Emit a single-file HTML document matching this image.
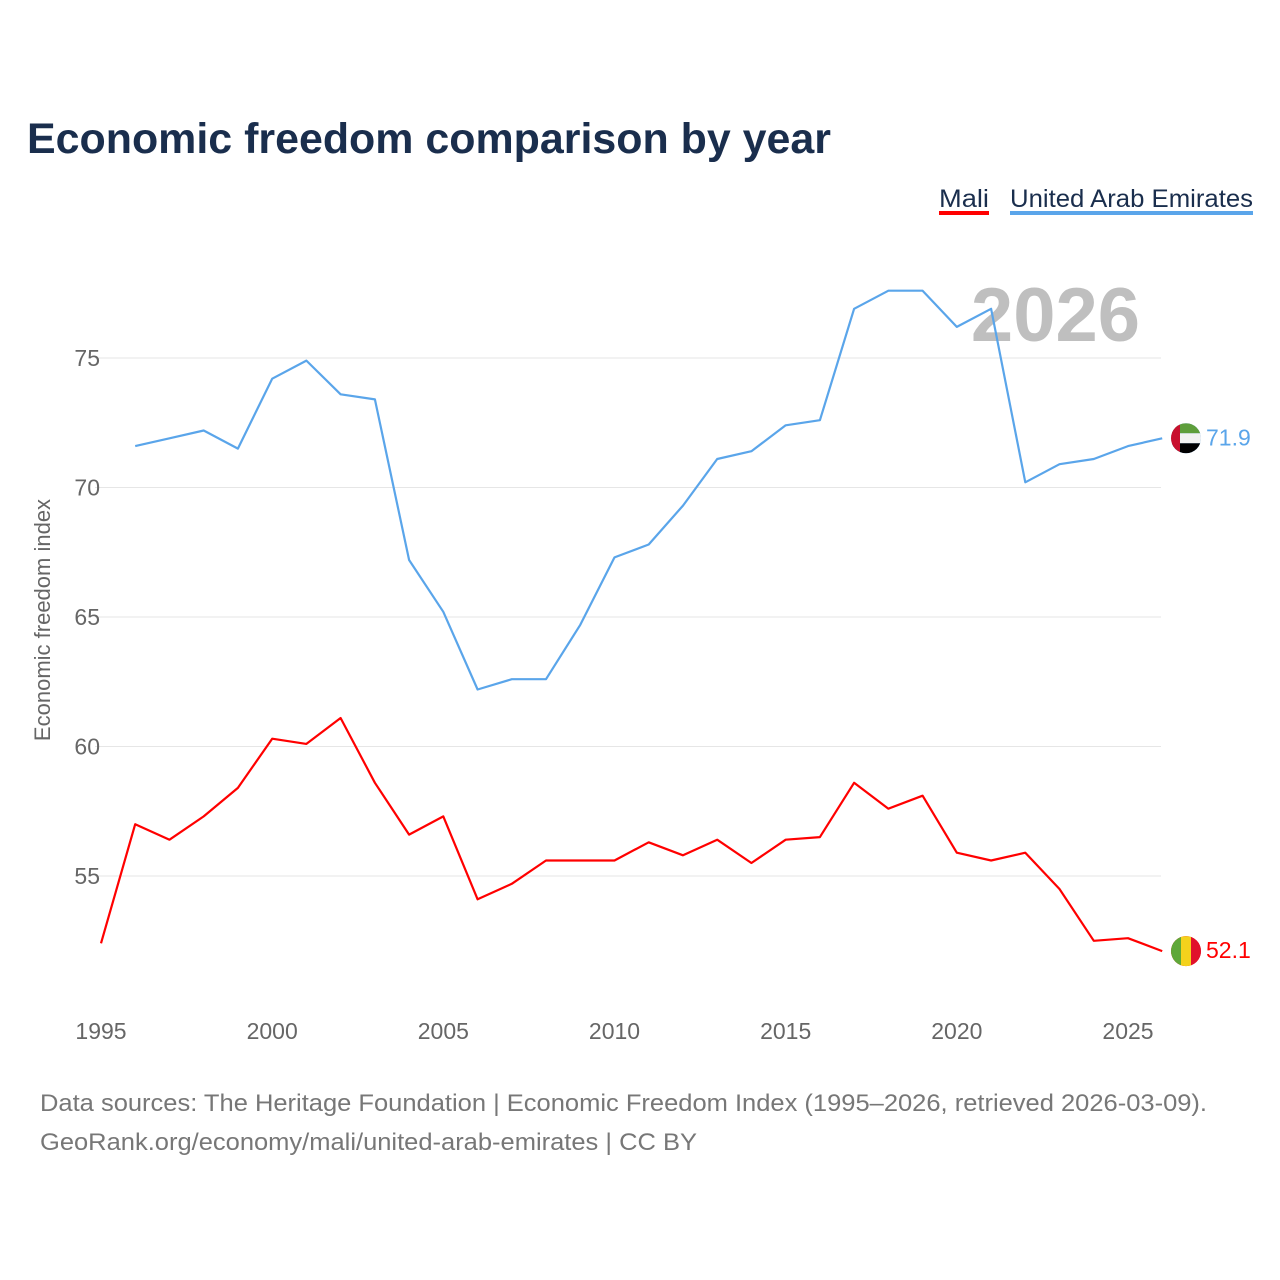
<!DOCTYPE html>
<html><head><meta charset="utf-8"><style>
body{margin:0;width:1280px;height:1280px;background:#fff;font-family:"Liberation Sans",sans-serif;overflow:hidden}
svg{display:block}
</style></head><body>
<svg id="chart" width="1280" height="1280">
<text x="27" y="153" font-size="43" font-weight="bold" fill="#1a2e4d" textLength="804" lengthAdjust="spacingAndGlyphs">Economic freedom comparison by year</text>
<g>
<text x="939" y="207" font-size="25" fill="#1a2e4d" textLength="50" lengthAdjust="spacingAndGlyphs">Mali</text>
<rect x="939" y="211" width="50" height="4" fill="#ff0000"/>
<text x="1010" y="207" font-size="25" fill="#1a2e4d" textLength="243" lengthAdjust="spacingAndGlyphs">United Arab Emirates</text>
<rect x="1010" y="211" width="243" height="4" fill="#5aa5ea"/>
</g>
<text x="1140" y="341" font-size="76" font-weight="bold" fill="#bfbfbf" text-anchor="end">2026</text>
<g id="grid"></g>
<text transform="translate(50,620) rotate(-90)" font-size="22" fill="#666" text-anchor="middle">Economic freedom index</text>
<g id="series"></g>
<text x="40" y="1111" font-size="24" fill="#777" textLength="1167" lengthAdjust="spacingAndGlyphs">Data sources: The Heritage Foundation | Economic Freedom Index (1995–2026, retrieved 2026-03-09).</text>
<text x="40" y="1150" font-size="24" fill="#777" textLength="657" lengthAdjust="spacingAndGlyphs">GeoRank.org/economy/mali/united-arab-emirates | CC BY</text>
</svg>
<script>
const years=[1995,1996,1997,1998,1999,2000,2001,2002,2003,2004,2005,2006,2007,2008,2009,2010,2011,2012,2013,2014,2015,2016,2017,2018,2019,2020,2021,2022,2023,2024,2025,2026];
const mali=[52.4,57.0,56.4,57.3,58.4,60.3,60.1,61.1,58.6,56.6,57.3,54.1,54.7,55.6,55.6,55.6,56.3,55.8,56.4,55.5,56.4,56.5,58.6,57.6,58.1,55.9,55.6,55.9,54.5,52.5,52.6,52.1];
const uae=[null,71.6,71.9,72.2,71.5,74.2,74.9,73.6,73.4,67.2,65.2,62.2,62.6,62.6,64.7,67.3,67.8,69.3,71.1,71.4,72.4,72.6,76.9,77.6,77.6,76.2,76.9,70.2,70.9,71.1,71.6,71.9];
const yTicks=[55,60,65,70,75];
const xTicks=[1995,2000,2005,2010,2015,2020,2025];
const NS="http://www.w3.org/2000/svg";
const xs=y=>101+(y-1995)*(1128-101)/30;
const ys=v=>876-(v-55)*(876-358)/20;
function mk(t,a,p){const e=document.createElementNS(NS,t);for(const k in a)e.setAttribute(k,a[k]);p.appendChild(e);return e;}
const g=document.getElementById('grid'),s=document.getElementById('series');
yTicks.forEach(v=>{
 const l=mk('line',{x1:95,x2:1161,y1:ys(v),y2:ys(v),stroke:'#e6e6e6','stroke-width':1},g);
 
 
 const t=mk('text',{x:100,y:ys(v)+8,'font-size':23,fill:'#666','text-anchor':'end'},g);t.textContent=v;
 
 
});
xTicks.forEach(v=>{
 const t=mk('text',{x:xs(v),y:1039,'font-size':23,fill:'#666','text-anchor':'middle'},g);t.textContent=v;
 
 
});
function line(data,color,name){
 let d='';data.forEach((v,i)=>{if(v==null)return;d+=(d?'L':'M')+xs(years[i]).toFixed(1)+','+ys(v).toFixed(1);});
 const p=mk('path',{d:d,fill:'none',stroke:color,'stroke-width':2.2,'stroke-linejoin':'round'},s);
 
 
 const last=data[data.length-1],cy=ys(last),cx=1186;
 const c=mk('circle',{cx:cx,cy:cy,r:15,fill:color},s);
 
 
 const t=mk('text',{x:1206,y:cy+7,'font-size':23,fill:color},s);t.textContent=last.toFixed(1);
 
 
 return {cx,cy};
}
const m=line(mali,'#ff0000','mali');
const u=line(uae,'#5aa5ea','uae');
const mf=mk('g',{},s);


const cm=mk('clipPath',{id:'cm'},mf);mk('circle',{cx:m.cx,cy:m.cy,r:15},cm);
mk('rect',{x:m.cx-15,y:m.cy-15,width:10,height:30,fill:'#5fa839','clip-path':'url(#cm)'},mf);
mk('rect',{x:m.cx-5,y:m.cy-15,width:10,height:30,fill:'#f4d21c','clip-path':'url(#cm)'},mf);
mk('rect',{x:m.cx+5,y:m.cy-15,width:10,height:30,fill:'#e0112b','clip-path':'url(#cm)'},mf);
const uf=mk('g',{},s);


const cp=mk('clipPath',{id:'cu'},uf);mk('circle',{cx:u.cx,cy:u.cy,r:15},cp);
mk('rect',{x:u.cx-15,y:u.cy-15,width:30,height:10,fill:'#5e9e3b','clip-path':'url(#cu)'},uf);
mk('rect',{x:u.cx-15,y:u.cy-5,width:30,height:10,fill:'#f2f2f2','clip-path':'url(#cu)'},uf);
mk('rect',{x:u.cx-15,y:u.cy+5,width:30,height:10,fill:'#000','clip-path':'url(#cu)'},uf);
mk('rect',{x:u.cx-15,y:u.cy-15,width:9,height:30,fill:'#c8102e','clip-path':'url(#cu)'},uf);
</script>
</body></html>
